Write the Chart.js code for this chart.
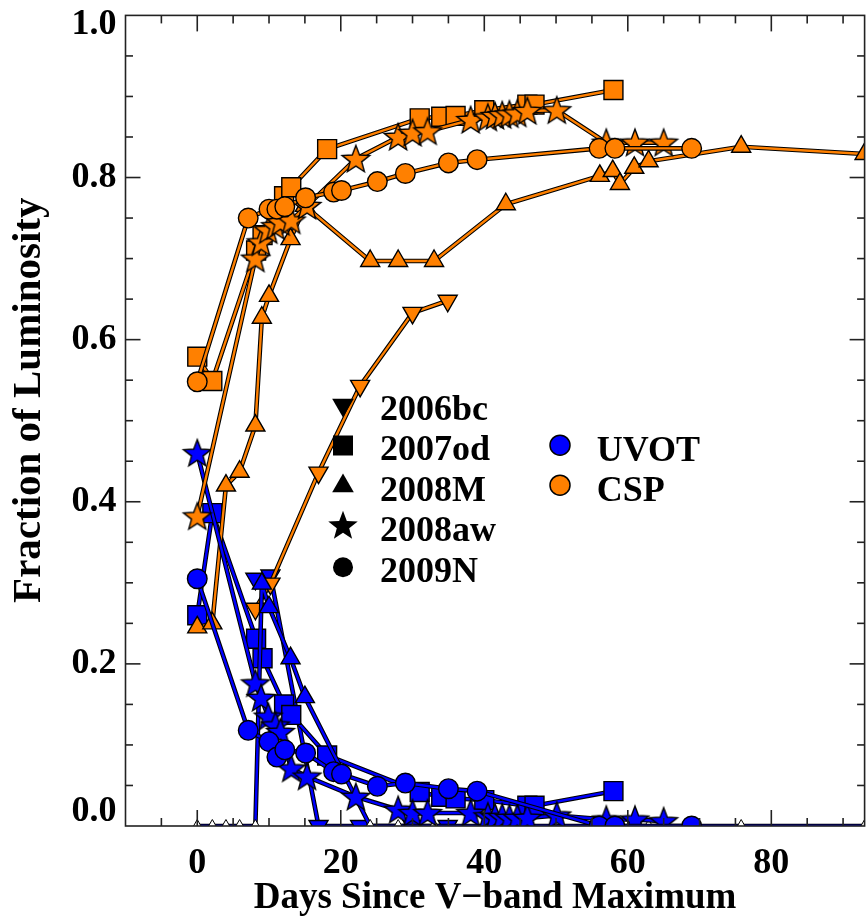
<!DOCTYPE html>
<html><head><meta charset="utf-8">
<script src="https://cdn.jsdelivr.net/npm/chart.js@4/dist/chart.umd.min.js"></script>
<style>html,body{margin:0;padding:0;overflow:hidden;background:#fff;width:867px;height:919px}canvas{display:block}</style>
</head><body><canvas id="c" width="880" height="919"></canvas>
<script>
// ---------- data ----------
const xTickLabels = [0, 20, 40, 60, 80];
const yTickLabels = [0.0, 0.2, 0.4, 0.6, 0.8, 1.0];
const supernovae = ['2006bc', '2007od', '2008M', '2008aw', '2009N'];
const instruments = ['UVOT', 'CSP'];

const days2006bc = [8.1, 10.2, 16.9, 22.7, 30, 34.9];
const uvot2006bc = [0.305, 0.309, 0, 0, 0, 0];
const csp2006bc  = [0.268, 0.299, 0.436, 0.543, 0.633, 0.648];

const days2007od = [0, 2.1, 8.2, 9.1, 12.1, 13.1, 18.1, 31, 34, 36, 40, 46, 47, 58];
const uvot2007od = [0.26, 0.386, 0.231, 0.207, 0.15, 0.137, 0.087, 0.042, 0.036, 0.034, 0.032, 0.025, 0.025, 0.043];
const csp2007od  = [0.579, 0.549, 0.71, 0.729, 0.777, 0.788, 0.835, 0.873, 0.875, 0.876, 0.883, 0.89, 0.89, 0.908];

const days2008M = [0, 2.1, 4, 5.9, 8.1, 9, 10, 13, 15, 24.1, 28, 33, 43, 56.1, 57.9, 58.9, 60.9, 62.9, 75.8, 93];
const uvot2008M = [0, 0, 0, 0, 0, 0.299, 0.27, 0.207, 0.159, 0, 0, 0, 0, 0, 0, 0, 0, 0, 0, 0];
const csp2008M  = [0.245, 0.25, 0.42, 0.437, 0.494, 0.627, 0.654, 0.724, 0.765, 0.697, 0.697, 0.697, 0.767, 0.802, 0.808, 0.792, 0.812, 0.82, 0.838, 0.829];

const days2008aw = [0, 8.1, 8.9, 9.9, 10.9, 11.6, 13.1, 15.3, 22.1, 28, 30, 32.1, 38.1, 40.5, 41.5, 42.5, 43.5, 44.6, 46, 50.1, 57, 61, 65];
const uvot2008aw = [0.46, 0.176, 0.158, 0.135, 0.124, 0.116, 0.071, 0.061, 0.036, 0.02, 0.016, 0.016, 0.016, 0.012, 0.011, 0.011, 0.01, 0.01, 0.01, 0.013, 0.008, 0.008, 0.006];
const csp2008aw  = [0.382, 0.70, 0.72, 0.735, 0.74, 0.745, 0.747, 0.765, 0.823, 0.85, 0.855, 0.857, 0.871, 0.874, 0.876, 0.877, 0.878, 0.879, 0.882, 0.883, 0.843, 0.843, 0.843];

const days2009N = [0, 7.1, 10, 11.1, 12.2, 15.1, 19, 20.1, 25.1, 29, 35, 39, 56, 58.2, 68.9];
const uvot2009N = [0.305, 0.118, 0.104, 0.085, 0.094, 0.09, 0.067, 0.064, 0.049, 0.053, 0.046, 0.043, 0, 0, 0];
const csp2009N  = [0.548, 0.75, 0.761, 0.761, 0.764, 0.775, 0.782, 0.784, 0.795, 0.805, 0.818, 0.822, 0.836, 0.836, 0.836];

// ---------- styles ----------
const BLUE = '#0000ff';
const ORANGE = '#ff8000';
const FAMILY = '"Liberation Serif", "Times New Roman", serif';
const FONT = {family: FAMILY, size: 36, weight: 'bold', lineHeight: 1.0};
const XTITLE_FONT = {family: FAMILY, size: 37, weight: 'bold', lineHeight: 1.0};
const YTITLE_FONT = {family: FAMILY, size: 41, weight: 'bold', lineHeight: 1.0};
const FONT_CSS = 'bold 36px ' + FAMILY;

function starPath(g, cx, cy, R, ratio) {
  g.beginPath();
  for (let i = 0; i < 10; i++) {
    const a = -Math.PI / 2 + i * Math.PI / 5;
    const rr = (i % 2) ? R * ratio : R;
    g.lineTo(cx + rr * Math.cos(a), cy + rr * Math.sin(a));
  }
  g.closePath();
}
function starImage(fill) {
  const R = 14.5, s = 34;
  const c = document.createElement('canvas');
  c.width = s; c.height = s;
  const g = c.getContext('2d');
  starPath(g, s / 2, s / 2 + 1, R, 0.42);
  g.fillStyle = fill; g.fill();
  g.lineWidth = 1.4; g.strokeStyle = '#000'; g.lineJoin = 'miter'; g.stroke();
  return c;
}
const starImgs = {UVOT: starImage(BLUE), CSP: starImage(ORANGE)};

const series = [
  {name: '2006bc', days: days2006bc, UVOT: uvot2006bc, CSP: csp2006bc, shape: 'triangle', rot: 180, r: 11},
  {name: '2007od', days: days2007od, UVOT: uvot2007od, CSP: csp2007od, shape: 'rect', rot: 0, r: 13.4},
  {name: '2008M', days: days2008M, UVOT: uvot2008M, CSP: csp2008M, shape: 'triangle', rot: 0, r: 11},
  {name: '2008aw', days: days2008aw, UVOT: uvot2008aw, CSP: csp2008aw, shape: 'star', rot: 0, r: 14},
  {name: '2009N', days: days2009N, UVOT: uvot2009N, CSP: csp2009N, shape: 'circle', rot: 0, r: 9.8}
];

const drawList = [];
series.forEach(s => {
  instruments.forEach(inst => {
    const vals = s[inst];
    const col = inst === 'UVOT' ? BLUE : ORANGE;
    const data = s.days.map((d, i) => ({x: d, y: vals[i]}));
    drawList.push({
      label: s.name + ' ' + inst + ' outline', data, showLine: true, clip: 0,
      borderColor: '#000', borderWidth: 4.6, pointRadius: 0, pointHoverRadius: 0
    });
    const hollowZeros = (s.name === '2008M' && inst === 'UVOT');
    drawList.push({
      label: s.name + ' ' + inst, data, showLine: true, clip: 0,
      borderColor: col, borderWidth: 2.4,
      pointStyle: s.shape === 'star' ? starImgs[inst] : s.shape,
      pointRotation: s.rot,
      pointRadius: hollowZeros ? (c => vals[c.dataIndex] === 0 ? 6.5 : s.r) : s.r,
      pointBackgroundColor: hollowZeros ? (c => vals[c.dataIndex] === 0 ? '#fff' : col) : col,
      pointBorderColor: '#000',
      pointBorderWidth: hollowZeros ? (c => vals[c.dataIndex] === 0 ? 1 : 1.4) : 1.4,
      pointHoverRadius: s.r
    });
  });
});
const datasets = drawList.slice().reverse(); // Chart.js paints index 0 last

// ---------- plugins ----------
function seg(ctx, x1, y1, x2, y2) { ctx.beginPath(); ctx.moveTo(x1, y1); ctx.lineTo(x2, y2); ctx.stroke(); }

const framePlugin = {
  id: 'frame',
  afterDatasetsDraw(chart) {
    const {ctx, chartArea: a, scales: {x, y}} = chart;
    ctx.save();
    ctx.strokeStyle = '#222'; ctx.lineWidth = 1.6; ctx.lineCap = 'butt';
    ctx.strokeRect(a.left, a.top, a.right - a.left, a.bottom - a.top);
    for (let v = -5; v <= 90; v += 5) {
      const px = x.getPixelForValue(v);
      const L = v % 20 === 0 ? 16 : 8;
      seg(ctx, px, a.bottom, px, a.bottom - L);
      seg(ctx, px, a.top, px, a.top + L);
    }
    for (let i = 1; i < 20; i++) {
      const py = y.getPixelForValue(i * 0.05);
      const L = i % 4 === 0 ? 15 : 7.5;
      seg(ctx, a.left, py, a.left + L, py);
      seg(ctx, a.right, py, a.right - L, py);
    }
    ctx.restore();
  }
};

const labelShiftPlugin = {
  id: 'labelShift',
  beforeDraw(chart) {
    try {
      const items = chart.scales.y.getLabelItems();
      items.forEach(it => {
        if (it._shifted) return;
        if (it.label === '1.0') it.options.translation[1] += 9.5;
        if (it.label === '0.0') it.options.translation[1] -= 14;
        it._shifted = true;
      });
    } catch (e) {}
  }
};

const legendPlugin = {
  id: 'customLegend',
  afterDraw(chart) {
    const ctx = chart.ctx;
    ctx.save();
    ctx.font = FONT_CSS; ctx.textBaseline = 'alphabetic'; ctx.textAlign = 'left';
    const baselines = [419.5, 460, 500.6, 541.2, 581.8];
    const mx = 343, tx = 380;
    series.forEach((s, i) => {
      const cy = baselines[i] - 14.5;
      ctx.fillStyle = '#000';
      if (s.shape === 'triangle') {
        const r = 12.5;
        ctx.beginPath();
        const dir = s.rot === 180 ? -1 : 1;
        ctx.moveTo(mx, cy - dir * r);
        ctx.lineTo(mx + r * 0.866, cy + dir * r * 0.5);
        ctx.lineTo(mx - r * 0.866, cy + dir * r * 0.5);
        ctx.closePath(); ctx.fill();
      } else if (s.shape === 'rect') {
        ctx.fillRect(mx - 10, cy - 10, 20, 20);
      } else if (s.shape === 'star') {
        starPath(ctx, mx, cy - 0.5, 15.5, 0.42); ctx.fill();
      } else {
        ctx.beginPath(); ctx.arc(mx, cy, 10, 0, Math.PI * 2); ctx.fill();
      }
      ctx.fillText(s.name, tx, baselines[i]);
    });
    const instY = [460.7, 500.7];
    instruments.forEach((inst, i) => {
      ctx.beginPath(); ctx.arc(560, instY[i] - 15.5, 10, 0, Math.PI * 2);
      ctx.fillStyle = inst === 'UVOT' ? BLUE : ORANGE; ctx.fill();
      ctx.lineWidth = 1.5; ctx.strokeStyle = '#000'; ctx.stroke();
      ctx.fillStyle = '#000';
      ctx.fillText(inst, 596.7, instY[i]);
    });
    ctx.restore();
  }
};

new Chart(document.getElementById('c'), {
  type: 'scatter',
  data: {datasets},
  options: {
    responsive: false, animation: false, devicePixelRatio: 1,
    layout: {padding: {left: 0, top: 14.3, right: 9.8, bottom: 0}},
    plugins: {legend: {display: false}, tooltip: {enabled: false}},
    elements: {line: {tension: 0, borderJoinStyle: 'round'}},
    scales: {
      x: {
        type: 'linear', min: -10, max: 93,
        afterBuildTicks: s => { s.ticks = xTickLabels.map(v => ({value: v})); },
        grid: {display: false, drawTicks: false}, border: {display: false},
        ticks: {font: FONT, color: '#000', padding: 20, maxRotation: 0, autoSkip: false, callback: v => String(v)},
        title: {display: true, text: 'Days Since V\u2212band Maximum', font: XTITLE_FONT, color: '#000', padding: {top: 0, bottom: 2}},
        afterFit: s => { s.height = 93; s.paddingLeft = 0; s.paddingRight = 0; }
      },
      y: {
        type: 'linear', min: 0, max: 1,
        afterBuildTicks: s => { s.ticks = yTickLabels.map(v => ({value: v})); },
        grid: {display: false, drawTicks: false}, border: {display: false},
        ticks: {font: FONT, color: '#000', padding: 9, autoSkip: false, callback: v => Number(v).toFixed(1)},
        title: {display: true, text: '    Fraction of Luminosity', font: YTITLE_FONT, color: '#000', padding: {top: 9, bottom: 0}},
        afterFit: s => { s.width = 125.5; s.paddingTop = 0; s.paddingBottom = 0; }
      }
    }
  },
  plugins: [labelShiftPlugin, framePlugin, legendPlugin]
});
</script>
</body></html>
